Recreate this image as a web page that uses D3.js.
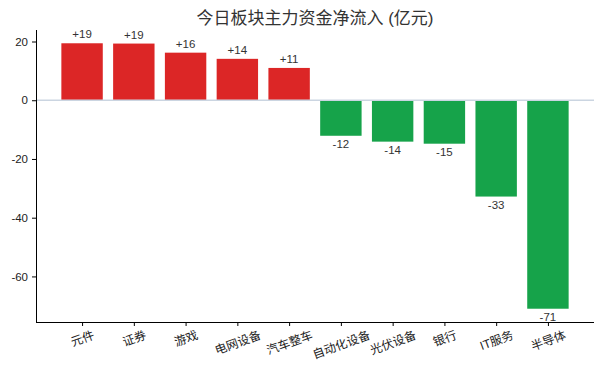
<!DOCTYPE html>
<html>
<head>
<meta charset="utf-8">
<script src="https://cdn.jsdelivr.net/npm/d3@7"></script>
<style>
  body { margin: 0; background: #fff; }
  svg text { font-family: "Liberation Sans", "Noto Sans CJK SC", sans-serif; }
</style>
</head>
<body>
<svg id="chart" width="602" height="373"></svg>
<script>
// sectors and net main-force inflow (100M CNY)
const sectors = ["元件", "证券", "游戏", "电网设备", "汽车整车", "自动化设备", "光伏设备", "银行", "IT服务", "半导体"];
const inflows = [19.4, 19.3, 16.2, 14.1, 11.0, -12.1, -14.1, -14.8, -32.8, -71.0];
const yTicks = [20, 0, -20, -40, -60];

const colors = {
  positive: "#dc2626",
  negative: "#16a34a",
  zeroLine: "#cbd5e1",
  text: "#222",
  title: "#333",
  label: "#333",
};

const margin = { top: 30, right: 8, bottom: 51, left: 36 };
const width = 602, height = 373;

const svg = d3.select("#chart");

const x = d3.scaleLinear()
  .domain([-0.89, sectors.length - 1 + 0.89])
  .range([margin.left, width - margin.right]);

const barWidth = (x(1) - x(0)) * 0.8;

const lo = d3.min(inflows), hi = d3.max(inflows);
const pad = (hi - lo) * 0.05;
const y = d3.scaleLinear()
  .domain([lo - pad, hi + pad])
  .range([height - margin.bottom, margin.top]);

// title
svg.append("text")
  .attr("x", (margin.left + width - margin.right) / 2)
  .attr("y", 24)
  .attr("text-anchor", "middle")
  .attr("font-size", 17)
  .attr("fill", colors.title)
  .text("今日板块主力资金净流入 (亿元)");

// bars
svg.append("g")
  .selectAll("rect")
  .data(inflows)
  .join("rect")
  .attr("x", (d, i) => x(i) - barWidth / 2)
  .attr("width", barWidth)
  .attr("y", d => y(Math.max(0, d)))
  .attr("height", d => Math.abs(y(d) - y(0)))
  .attr("fill", d => d >= 0 ? colors.positive : colors.negative);

// zero line
svg.append("line")
  .attr("x1", x.range()[0])
  .attr("x2", x.range()[1])
  .attr("y1", y(0))
  .attr("y2", y(0))
  .attr("stroke", colors.zeroLine)
  .attr("stroke-width", 1.5);

// value labels
svg.append("g")
  .selectAll("text")
  .data(inflows)
  .join("text")
  .attr("x", (d, i) => x(i))
  .attr("y", d => d >= 0 ? y(d) - 5 : y(d) + 4)
  .attr("dy", d => d >= 0 ? 0 : "0.75em")
  .attr("text-anchor", "middle")
  .attr("font-size", 11.5)
  .attr("fill", colors.label)
  .text(d => (d >= 0 ? "+" : "-") + Math.round(Math.abs(d)));

// y axis
const yAxis = svg.append("g")
  .attr("transform", `translate(${margin.left},0)`)
  .call(d3.axisLeft(y).tickValues(yTicks).tickSize(4).tickPadding(4).tickFormat(d => String(d)));
yAxis.select(".domain").attr("stroke", "#000").attr("d", `M0.5,${y.range()[1]}V${y.range()[0]}`);
yAxis.selectAll("text").attr("font-size", 11.5).attr("fill", colors.text);

// x axis
const xAxis = svg.append("g")
  .attr("transform", `translate(0,${height - margin.bottom})`)
  .call(d3.axisBottom(x).tickValues(d3.range(sectors.length)).tickSize(4).tickFormat(i => sectors[i]));
xAxis.select(".domain").attr("stroke", "#000").attr("d", `M${x.range()[0]},0.5H${x.range()[1]}`);

// rotate the category labels 20deg, centred under the tick like matplotlib
const angle = 20 * Math.PI / 180;
const xFont = 12;
xAxis.selectAll(".tick text")
  .attr("font-size", xFont)
  .attr("fill", colors.text)
  .attr("dy", null)
  .attr("y", null)
  .attr("dominant-baseline", "central")
  .attr("text-anchor", "middle")
  .each(function () {
    const w = this.getComputedTextLength();
    const boxH = w * Math.sin(angle) + xFont * Math.cos(angle);
    d3.select(this).attr("transform", `translate(0,${7 + boxH / 2}) rotate(-20)`);
  });
</script>
</body>
</html>
